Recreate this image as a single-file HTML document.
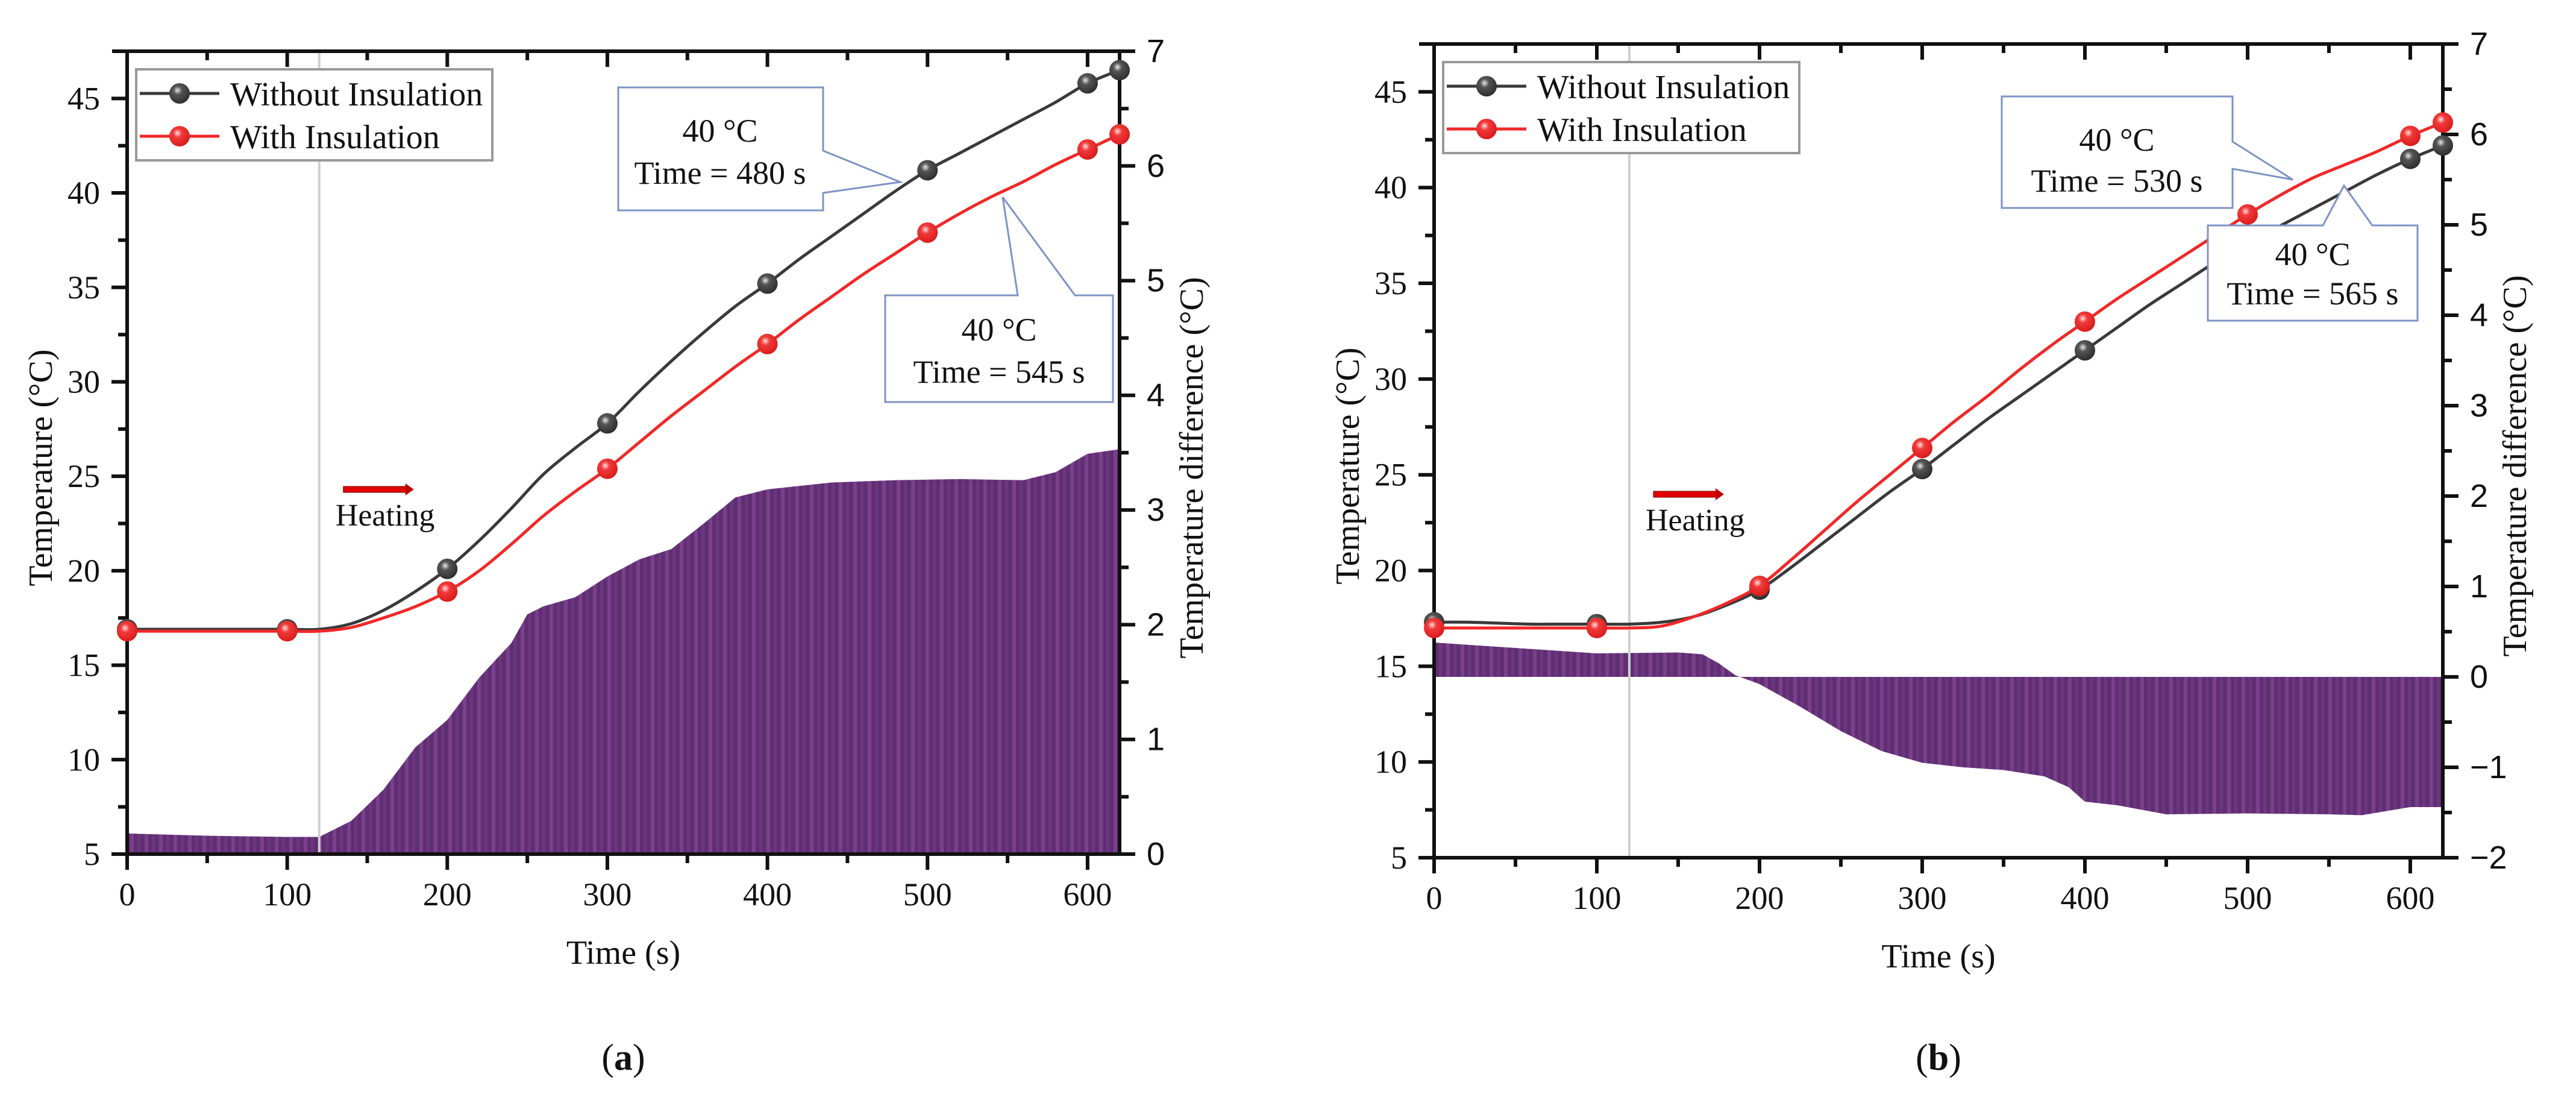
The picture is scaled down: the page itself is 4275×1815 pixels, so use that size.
<!DOCTYPE html>
<html><head><meta charset="utf-8"><style>
html,body{margin:0;padding:0;background:#fff;}
svg{display:block;font-family:"Liberation Serif","Times New Roman",serif;}
</style></head><body>
<svg id="fig" width="4275" height="1815" viewBox="0 0 4275 1815" xmlns="http://www.w3.org/2000/svg">
<defs>
<pattern id="stripes" patternUnits="userSpaceOnUse" width="24" height="10">
<rect x="0" y="0" width="24" height="10" fill="#5f2f72"/>
<rect x="0" y="0" width="6" height="10" fill="#7b3f8e"/>
<rect x="12" y="0" width="5" height="10" fill="#6c3680"/>
</pattern>
<radialGradient id="gBlack" cx="0.4" cy="0.35" r="0.7"><stop offset="0" stop-color="#e8e8e8"/><stop offset="0.3" stop-color="#555"/><stop offset="1" stop-color="#2a2a2a"/></radialGradient>
<radialGradient id="gRed" cx="0.4" cy="0.35" r="0.7"><stop offset="0" stop-color="#ffe0e0"/><stop offset="0.3" stop-color="#f03a3a"/><stop offset="1" stop-color="#d81818"/></radialGradient>
</defs>
</svg>
<script>
// ---------- Panel (a) data ----------
const timesA = [0,20,40,60,80,100,120,140,160,180,200,220,240,260,280,300,320,340,360,380,400,420,440,460,480,500,520,540,560,580,600,620];
const withoutA = [16.9,16.9,16.9,16.9,16.9,16.9,16.9,17.2,17.9,18.9,20.1,21.6,23.3,25.1,26.5,27.8,29.5,31.1,32.6,34.0,35.2,36.5,37.7,38.9,40.1,41.2,42.1,43.0,43.9,44.8,45.8,46.5];
const withA = [16.8,16.8,16.8,16.8,16.8,16.8,16.8,17.0,17.5,18.1,18.9,20.0,21.4,22.9,24.2,25.4,26.8,28.2,29.5,30.8,32.0,33.3,34.5,35.7,36.8,37.9,38.9,39.8,40.6,41.5,42.3,43.1];
const diffTimesA = [0,50,100,120,140,160,180,200,220,240,250,260,280,300,320,340,360,380,400,440,480,520,560,580,600,620];
const diffA = [0.18,0.16,0.15,0.15,0.29,0.56,0.93,1.17,1.54,1.84,2.09,2.16,2.24,2.42,2.57,2.66,2.88,3.11,3.18,3.24,3.26,3.27,3.26,3.33,3.49,3.53];
// ---------- Panel (b) data ----------
const timesB = [0,20,40,60,80,100,120,140,160,180,200,220,240,260,280,300,320,340,360,380,400,420,440,460,480,500,520,540,560,580,600,620];
const withoutB = [17.3,17.3,17.25,17.2,17.2,17.2,17.2,17.3,17.6,18.2,19.0,20.2,21.5,22.8,24.1,25.3,26.6,27.9,29.1,30.3,31.5,32.7,33.9,35.0,36.1,37.1,38.0,38.9,39.8,40.7,41.5,42.2];
const withB = [17.0,17.0,17.0,17.0,17.0,17.0,17.0,17.1,17.6,18.3,19.2,20.6,22.1,23.6,25.0,26.4,27.8,29.1,30.5,31.8,33.0,34.2,35.3,36.4,37.5,38.6,39.6,40.5,41.2,41.9,42.7,43.4];
const diffTimesB = [0,50,100,150,165,175,185,200,225,250,275,300,325,350,375,390,400,420,450,500,550,570,590,600,620];
const diffB = [0.38,0.32,0.26,0.27,0.25,0.15,0.02,-0.08,-0.33,-0.6,-0.82,-0.95,-1.0,-1.03,-1.1,-1.22,-1.38,-1.42,-1.52,-1.51,-1.52,-1.53,-1.47,-1.44,-1.44];
// ---------- tick labels ----------
const xTicks = [0,100,200,300,400,500,600];
const yTicks = [5,10,15,20,25,30,35,40,45];
const rTicksA = [0,1,2,3,4,5,6,7];
const rTicksB = [-2,-1,0,1,2,3,4,5,6,7];
const seriesNames = ["Without Insulation","With Insulation"];

const NS = "http://www.w3.org/2000/svg";
const svg = document.getElementById('fig');
function mk(tag, attrs, parent, text){
  const e = document.createElementNS(NS, tag);
  for (const k in attrs) e.setAttribute(k, attrs[k]);
  if (text !== undefined) e.textContent = text;
  (parent || svg).appendChild(e);
  return e;
}
function smoothPath(pts){
  let d = "M" + pts[0][0] + "," + pts[0][1];
  for (let i = 0; i < pts.length - 1; i++){
    const p0 = pts[Math.max(0,i-1)], p1 = pts[i], p2 = pts[i+1], p3 = pts[Math.min(pts.length-1,i+2)];
    const c1x = p1[0] + (p2[0]-p0[0])/6, c1y = p1[1] + (p2[1]-p0[1])/6;
    const c2x = p2[0] - (p3[0]-p1[0])/6, c2y = p2[1] - (p3[1]-p1[1])/6;
    d += " C" + c1x + "," + c1y + " " + c2x + "," + c2y + " " + p2[0] + "," + p2[1];
  }
  return d;
}

function panel(cfg){
  const g = mk('g', {});
  
  
  const L = cfg.left, R = cfg.right, T = cfg.top, B = cfg.bottom;
  const X = t => L + (t - 0) / 620 * (R - L);
  const Y = v => B - (v - 5) / 42.5 * (B - T);
  const YR = v => B - (v - cfg.rMin) / (7 - cfg.rMin) * (B - T);

  const zeroY = YR(0);
  let d = "M" + X(cfg.dt[0]) + "," + zeroY;
  cfg.dt.forEach((t,i) => { d += " L" + X(t) + "," + YR(cfg.dv[i]); });
  d += " L" + X(cfg.dt[cfg.dt.length-1]) + "," + zeroY + " Z";
  const area = mk('path', {d: d, fill: 'url(#stripes)', stroke: 'none'}, g);
  
  

  const hl = mk('line', {x1: X(120), x2: X(120), y1: T, y2: B, stroke: '#cfcfcf', 'stroke-width': 4}, g);
  
  

  const ax = mk('g', {stroke: '#111', 'stroke-width': 6, fill: 'none'}, g);
  
  
  mk('line', {x1: L-25, x2: R+25, y1: B, y2: B}, ax);
  mk('line', {x1: L-25, x2: R+25, y1: T, y2: T}, ax);
  mk('line', {x1: L, x2: L, y1: T, y2: B+25}, ax);
  mk('line', {x1: R, x2: R, y1: T, y2: B}, ax);

  for (let t = 0; t <= 600; t += 50){
    const major = t % 100 === 0;
    mk('line', {x1: X(t), x2: X(t), y1: B, y2: B + (major ? 26 : 15)}, ax);
    mk('line', {x1: X(t), x2: X(t), y1: T, y2: T + (major ? 26 : 15)}, ax);
  }
  xTicks.forEach(t => {
    const tl = mk('text', {x: X(t), y: B + 85, 'font-size': 54, 'text-anchor': 'middle', fill: '#111'}, g, String(t));
    
    
  });
  for (let v = 5; v <= 47.5; v += 2.5){
    const major = v % 5 === 0;
    mk('line', {x1: L - (major ? 26 : 15), x2: L, y1: Y(v), y2: Y(v)}, ax);
  }
  yTicks.forEach(v => {
    const tl = mk('text', {x: L - 45, y: Y(v) + 18, 'font-size': 54, 'text-anchor': 'end', fill: '#111'}, g, String(v));
    
    
  });
  for (let v = cfg.rMin; v <= 7; v += 0.5){
    const major = Number.isInteger(v);
    mk('line', {x1: R, x2: R + (major ? 26 : 15), y1: YR(v), y2: YR(v)}, ax);
  }
  cfg.rTicks.forEach(v => {
    const tl = mk('text', {x: R + 45, y: YR(v) + 18, 'font-size': 54, 'text-anchor': 'start', fill: '#111', 'font-family': '"Liberation Sans", sans-serif'}, g, v < 0 ? '\u2212' + Math.abs(v) : String(v));
    
    
  });

  const xt = mk('text', {x: (L+R)/2, y: B + 182, 'font-size': 56, 'text-anchor': 'middle', fill: '#111'}, g, 'Time (s)');
  
  
  const cy = (T+B)/2 + 25;
  const yt = mk('text', {x: 0, y: 0, 'font-size': 56, 'text-anchor': 'middle', fill: '#111', transform: 'translate(' + (L-125) + ',' + cy + ') rotate(-90)'}, g, 'Temperature (\u00B0C)');
  
  
  const rt = mk('text', {x: 0, y: 0, 'font-size': 56, 'text-anchor': 'middle', fill: '#111', transform: 'translate(' + (R+138) + ',' + cy + ') rotate(-90)'}, g, 'Temperature difference (\u00B0C)');
  
  

  const series = [[cfg.wo, '#3a3a3a', 'url(#gBlack)', 'series-without-insulation'], [cfg.wi, '#f02828', 'url(#gRed)', 'series-with-insulation']];
  series.forEach(s => {
    const pts = cfg.t.map((t,i) => [X(t), Y(s[0][i])]);
    const sg = mk('g', {}, g);
    
    
    mk('path', {d: smoothPath(pts), fill: 'none', stroke: s[1], 'stroke-width': 5}, sg);
    cfg.t.forEach((t,i) => {
      if (t % 100 === 0 || t === 620){
        const m = mk('circle', {cx: X(t), cy: Y(s[0][i]), r: 17, fill: s[2]}, sg);
        
        
      }
    });
  });

  const lg = mk('g', {}, g);
  
  
  mk('rect', {x: L+15, y: T+30, width: 591, height: 151, fill: '#fff', stroke: '#999', 'stroke-width': 4}, lg);
  [['#3a3a3a','url(#gBlack)'],['#f02828','url(#gRed)']].forEach((c,i) => {
    const ry = T + 70 + i*71;
    const le = mk('g', {}, lg);
    
    
    mk('line', {x1: L+21, x2: L+153, y1: ry, y2: ry, stroke: c[0], 'stroke-width': 5}, le);
    mk('circle', {cx: L+87, cy: ry, r: 17, fill: c[1]}, le);
    mk('text', {x: L+171, y: ry + 20, 'font-size': 56, fill: '#111'}, le, seriesNames[i]);
  });

  const hg = mk('g', {}, g);
  
  
  const ax0 = X(120) + 40, ay = cfg.heatY;
  mk('rect', {x: ax0, y: ay-5, width: 105, height: 10, fill: '#e00000', stroke: '#700', 'stroke-width': 1}, hg);
  mk('polygon', {points: (ax0+103)+','+(ay-10)+' '+(ax0+117)+','+ay+' '+(ax0+103)+','+(ay+10), fill: '#c00000'}, hg);
  mk('text', {x: X(120) + 27, y: ay + 60, 'font-size': 52, fill: '#111'}, hg, 'Heating');

  cfg.callouts.forEach(c => {
    const cg = mk('g', {}, g);
    
    
    mk('polygon', {points: c.poly, fill: '#fff', stroke: '#7d93c4', 'stroke-width': 3}, cg);
    mk('text', {x: c.cx, y: c.y1, 'font-size': 54, 'text-anchor': 'middle', fill: '#111'}, cg, '40 \u00B0C');
    mk('text', {x: c.cx, y: c.y2, 'font-size': 54, 'text-anchor': 'middle', fill: '#111'}, cg, c.label);
  });

  const pl = mk('text', {x: (L+R)/2, y: 1775, 'font-size': 62, 'text-anchor': 'middle', fill: '#111'}, g);
  
  
  mk('tspan', {}, pl, '(');
  mk('tspan', {'font-weight': 'bold'}, pl, cfg.letter);
  mk('tspan', {}, pl, ')');
}

panel({name: 'panel-a', letter: 'a', left: 211, right: 1858, top: 85, bottom: 1417, rMin: 0, rTicks: rTicksA,
  t: timesA, wo: withoutA, wi: withA, dt: diffTimesA, dv: diffA, heatY: 812,
  callouts: [
    {poly: '1026,145 1366,145 1366,250 1494,302 1366,320 1366,349 1026,349', cx: 1195, y1: 235, y2: 305, label: 'Time = 480 s'},
    {poly: '1469,490 1689,490 1664,327 1784,490 1847,490 1847,667 1469,667', cx: 1658, y1: 565, y2: 635, label: 'Time = 545 s'}
  ]});
panel({name: 'panel-b', letter: 'b', left: 2380, right: 4054, top: 73, bottom: 1423, rMin: -2, rTicks: rTicksB,
  t: timesB, wo: withoutB, wi: withB, dt: diffTimesB, dv: diffB, heatY: 820,
  callouts: [
    {poly: '3322,160 3705,160 3705,235 3805,298 3705,280 3705,345 3322,345', cx: 3513, y1: 250, y2: 318, label: 'Time = 530 s'},
    {poly: '3664,374 3855,374 3890,308 3937,374 4012,374 4012,532 3664,532', cx: 3838, y1: 440, y2: 505, label: 'Time = 565 s'}
  ]});
</script>
</body></html>
